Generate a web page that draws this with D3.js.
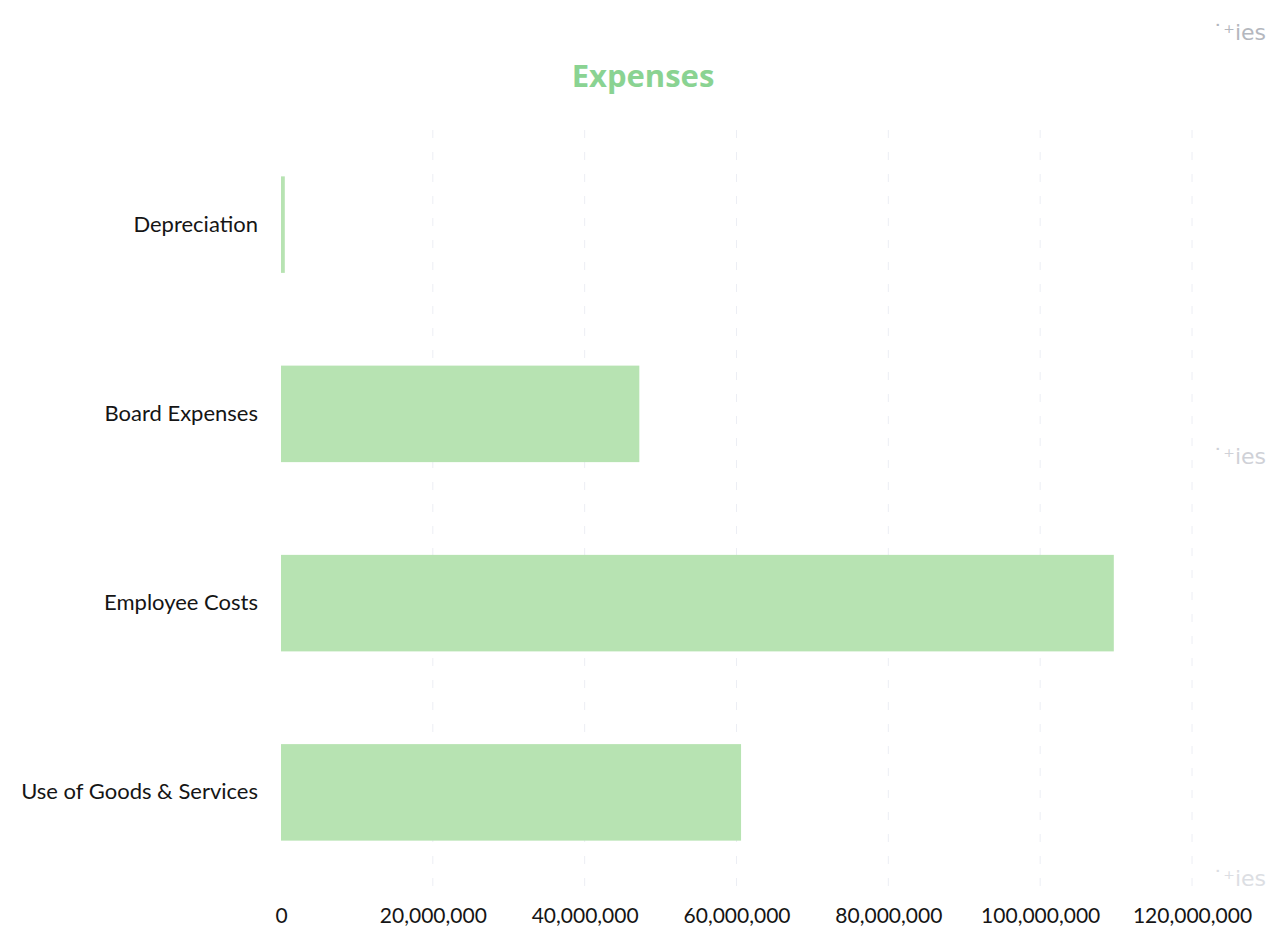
<!DOCTYPE html>
<html>
<head>
<meta charset="utf-8">
<script src="https://cdn.jsdelivr.net/npm/d3@7"></script>
<style>
  body { margin: 0; background: #fff; }
</style>
</head>
<body>
<script>
// Chart data
const categories = ['Depreciation', 'Board Expenses', 'Employee Costs', 'Use of Goods & Services'];
const expenses = [500000, 47200000, 109700000, 60600000];
const xTicks = [0, 20000000, 40000000, 60000000, 80000000, 100000000, 120000000];

const W = 1288, H = 941;

const svg = d3.select('body').append('svg')
    .attr('width', W)
    .attr('height', H);

// Scales
const x = d3.scaleLinear()
    .domain([0, 120000000])
    .range([281, 1192]);

const y = d3.scaleBand()
    .domain(categories)
    .range([130, 887])
    .paddingInner(0.49)
    .paddingOuter(0.245);

// Title
svg.append('text')
    .attr('x', 643)
    .attr('y', 87)
    .attr('text-anchor', 'middle')
    .attr('font-family', '"Open Sans", sans-serif')
    .attr('font-weight', 'bold')
    .attr('font-size', 31)
    .attr('fill', '#8ad392')
    .text('Expenses');

// Faint grid lines
svg.append('g')
    .selectAll('line')
    .data(xTicks.slice(1))
    .enter().append('line')
    .attr('x1', d => x(d))
    .attr('x2', d => x(d))
    .attr('y1', 130)
    .attr('y2', 890)
    .attr('stroke', '#eceef4')
    .attr('stroke-width', 1)
    .attr('stroke-dasharray', '8,14');

// Bars
svg.append('g')
    .selectAll('rect')
    .data(expenses)
    .enter().append('rect')
    .attr('x', x(0))
    .attr('y', (d, i) => y(categories[i]))
    .attr('width', d => x(d) - x(0))
    .attr('height', y.bandwidth())
    .attr('fill', '#b7e3b2');

// Axes
const xAxis = svg.append('g')
    .attr('transform', 'translate(0,905)')
    .call(d3.axisBottom(x).tickValues(xTicks).tickSize(0).tickFormat(d3.format(',')));
xAxis.select('.domain').remove();
xAxis.selectAll('text')
    .attr('font-family', 'Lato, sans-serif')
    .attr('font-size', 21)
    .attr('fill', '#151515');

const yAxis = svg.append('g')
    .attr('transform', 'translate(270,0)')
    .call(d3.axisLeft(y).tickSize(0).tickPadding(12));
yAxis.select('.domain').remove();
yAxis.selectAll('text')
    .attr('font-family', 'Lato, sans-serif')
    .attr('font-size', 22)
    .attr('fill', '#151515');

// Faint bleed-through text at the right edge
svg.append('g')
    .selectAll('text')
    .data([{ y: 40, c: '#b4b7be' }, { y: 464, c: '#cfd1d7' }, { y: 886, c: '#dcdee3' }])
    .enter().append('text')
    .attr('x', 1266)
    .attr('y', d => d.y)
    .attr('text-anchor', 'end')
    .attr('font-family', '"DejaVu Sans", sans-serif')
    .attr('font-size', 22)
    .attr('fill', d => d.c)
    .text('\u02D9\u207Aies');
</script>
</body>
</html>
